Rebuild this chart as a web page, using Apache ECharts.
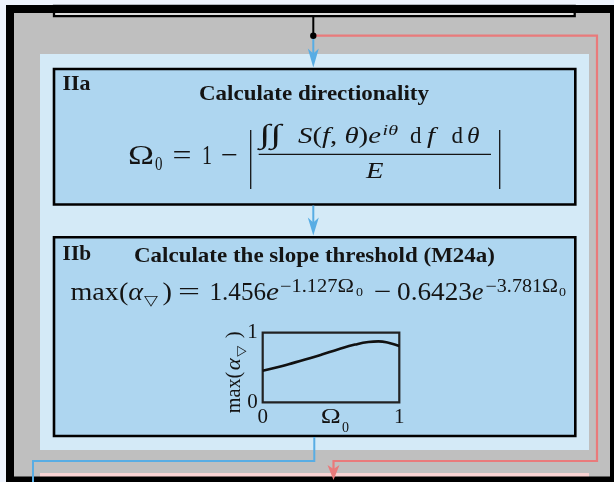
<!DOCTYPE html>
<html><head><meta charset="utf-8">
<script src="https://cdn.jsdelivr.net/npm/echarts@6/dist/echarts.min.js"></script>
<style>html,body{margin:0;padding:0;background:#eef3fc;}#c{width:614px;height:482px;}</style>
</head><body><div id="c"></div>
<script>
// ---- data ----
const omega0 = [0, 0.092, 0.19, 0.311, 0.433, 0.555, 0.676, 0.774, 0.847, 0.92, 1.0];
const maxAlpha = [0.452, 0.495, 0.548, 0.614, 0.686, 0.762, 0.829, 0.867, 0.876, 0.857, 0.81];
const xTickLabels = ['0', '1'];
const yTickLabels = ['0', '1'];
const stageLabels = ['IIa', 'IIb'];
const stageTitles = ['Calculate directionality', 'Calculate the slope threshold (M24a)'];

// ---- helpers ----
const SERIF = '"Liberation Serif", "DejaVu Serif", serif';
const INK = '#141414';
const ctx = document.createElement('canvas').getContext('2d');
function fontStr(size, it, bd) { return (it ? 'italic ' : '') + (bd ? 'bold ' : '') + size + 'px ' + SERIF; }
function run(tokens, x, base, size, w, z) {
  let total = 0, str = '';
  const rich = {};
  tokens.forEach(([t, k]) => {
    const it = k === 'i', bd = k === 'b';
    ctx.font = fontStr(size, it, bd);
    total += ctx.measureText(t).width;
    rich[k] = { fontFamily: SERIF, fontSize: size, fontStyle: it ? 'italic' : 'normal',
      fontWeight: bd ? 'bold' : 'normal', fill: INK };
    str += '{' + k + '|' + t + '}';
  });
  const sx = w ? w / total : 1;
  return { type: 'text', x: x, y: base - 0.34 * size, scaleX: sx, z: z || 6, silent: true,
    style: { text: str, rich: rich, align: 'left', verticalAlign: 'middle', fill: INK } };
}
const els = [];
function rect(x, y, w, h, fill, stroke, lw, z) {
  els.push({ type: 'rect', z: z, silent: true, shape: { x: x, y: y, width: w, height: h },
    style: { fill: fill || 'none', stroke: stroke || 'none', lineWidth: lw || 0 } });
}
function poly(points, color, lw, z) {
  els.push({ type: 'polyline', z: z || 5, silent: true, shape: { points: points },
    style: { stroke: color, lineWidth: lw, fill: 'none', lineJoin: 'miter' } });
}
function arrowDown(x, tip, len, half, notch, color) {
  els.push({ type: 'polygon', z: 5, silent: true,
    shape: { points: [[x, tip], [x - half, tip - len], [x, tip - len + notch], [x + half, tip - len]] },
    style: { fill: color } });
}
const BLUE = '#58ade4', RED = '#e97a7b';

// ---- diagram background ----
rect(10, 9, 604, 471.5, '#bfbfbf', null, 0, 1);
rect(54, 6, 520.7, 10.2, '#dcdcdc', '#000', 2.3, 2);
rect(40, 54, 549, 396, '#d4eaf7', null, 0, 2);
rect(40, 473, 549, 20, '#f9d3d3', null, 0, 2);
rect(10, 9, 604, 471.5, null, '#000', 8, 3);
rect(54, 69, 521.3, 135.5, '#aed6f0', '#000', 2.6, 4);
rect(54, 237.3, 521.3, 198.7, '#aed6f0', '#000', 2.6, 4);

// ---- connectors ----
poly([[313.3, 35.7], [597, 35.7], [597, 461], [333.5, 461], [333.5, 472]], RED, 2.2);
arrowDown(333.5, 480, 15, 6, 4, RED);
poly([[313.3, 17], [313.3, 35.7]], '#000', 2);
poly([[313.3, 35.7], [313.3, 56]], BLUE, 2);
arrowDown(313.3, 67.5, 19, 5.5, 5, BLUE);
poly([[313.3, 205.5], [313.3, 226]], BLUE, 2);
arrowDown(313.3, 235.5, 18, 5.5, 5, BLUE);
poly([[314.3, 437], [314.3, 461], [33, 461], [33, 484]], BLUE, 2);
els.push({ type: 'circle', z: 6, silent: true, shape: { cx: 313.3, cy: 35.7, r: 3.2 }, style: { fill: '#000' } });

// ---- stage IIa ----
els.push(run([[stageLabels[0], 'b']], 62.5, 91.5, 21, 28));
els.push(run([[stageTitles[0], 'b']], 199, 101.5, 21, 230));
els.push(run([['Ω', 'r']], 128, 166.5, 28, 26));
els.push(run([['0', 'r']], 155, 171, 19, 7.5));
els.push(run([['=', 'r']], 172.6, 166.5, 28, 19));
els.push(run([['1', 'r']], 202, 166.5, 28, 10));
els.push(run([['−', 'r']], 221, 166.5, 28, 17));
els.push({ type: 'line', z: 6, silent: true, shape: { x1: 250.7, y1: 130, x2: 250.7, y2: 189 }, style: { stroke: INK, lineWidth: 1.3 } });
els.push(run([['∫', 'i']], 259, 145.5, 27, 11));
els.push(run([['∫', 'i']], 270, 145.5, 27, 11));
els.push(run([['S', 'i'], ['(', 'r'], ['f', 'i'], [', ', 'r'], ['θ', 'i'], [')', 'r'], ['e', 'i']], 298, 144.5, 23, 83));
els.push(run([['iθ', 'i']], 382.6, 136.5, 15, 15.4));
els.push(run([['d', 'r']], 410, 144.5, 23, 11.5));
els.push(run([['f', 'i']], 427, 144.5, 23, 8));
els.push(run([['d', 'r']], 451.5, 144.5, 23, 11.5));
els.push(run([['θ', 'i']], 467, 144.5, 23, 12.5));
els.push({ type: 'line', z: 6, silent: true, shape: { x1: 258.7, y1: 154.3, x2: 491, y2: 154.3 }, style: { stroke: INK, lineWidth: 1.2 } });
els.push(run([['E', 'i']], 366, 180, 23, 17.5));
els.push({ type: 'line', z: 6, silent: true, shape: { x1: 499.7, y1: 130, x2: 499.7, y2: 189 }, style: { stroke: INK, lineWidth: 1.3 } });

// ---- stage IIb ----
els.push(run([[stageLabels[1], 'b']], 62.6, 262, 21, 28.5));
els.push(run([[stageTitles[1], 'b']], 134, 264, 21, 361));
els.push(run([['max', 'r'], ['(', 'r'], ['α', 'i']], 70.5, 302.5, 26, 72.5));
els.push(run([['▽', 'r']], 144, 306, 14, 14));
els.push(run([[')', 'r']], 162.5, 302.5, 26, 9.5));
els.push(run([['=', 'r']], 178, 302.5, 26, 22));
els.push(run([['1.456', 'r']], 209.5, 302.5, 26, 56.5));
els.push(run([['e', 'i']], 266, 302.5, 26, 13));
els.push(run([['−1.127', 'r']], 280, 293.5, 18, 57.5));
els.push(run([['Ω', 'r']], 337.5, 293.5, 18, 16.5));
els.push(run([['0', 'r']], 356, 296.5, 13, 7));
els.push(run([['−', 'r']], 374, 302.5, 26, 17.5));
els.push(run([['0.6423', 'r']], 397, 302.5, 26, 75));
els.push(run([['e', 'i']], 472, 302.5, 26, 11.5));
els.push(run([['−3.781', 'r']], 485.5, 293.5, 18, 56.5));
els.push(run([['Ω', 'r']], 542, 293.5, 18, 16));
els.push(run([['0', 'r']], 559, 296.5, 13, 7));

// ---- inset axis titles ----
els.push(run([['Ω', 'r']], 320.7, 425, 21, 20));
els.push(run([['0', 'r']], 342, 433.5, 14, 7));
els.push({ type: 'group', x: 242, y: 413.3, rotation: Math.PI / 2, z: 6, children: [
  run([['max(', 'r']], 0, 0, 20, 41.6, 6),
  run([['α', 'i']], 43, 0, 20, 12, 6),
  run([['▽', 'r']], 56.5, 3.5, 12, 11, 6),
  run([[')', 'r']], 75, 0, 20, 7, 6)
] });

const chart = echarts.init(document.getElementById('c'));
chart.setOption({
  backgroundColor: '#eef3fc',
  animation: false,
  grid: { left: 262.7, top: 332.7, width: 136.6, height: 69.6, show: true,
    borderColor: '#222', borderWidth: 2.2, backgroundColor: 'transparent', z: 10 },
  xAxis: { type: 'value', min: 0, max: 1, interval: 1, z: 10,
    axisLine: { show: false }, axisTick: { show: false }, splitLine: { show: false },
    axisLabel: { margin: 5, fontFamily: SERIF, fontSize: 21, color: INK,
      formatter: v => xTickLabels[Math.round(v)] } },
  yAxis: { type: 'value', min: 0, max: 1, interval: 1, z: 10,
    axisLine: { show: false }, axisTick: { show: false }, splitLine: { show: false },
    axisLabel: { margin: 5, fontFamily: SERIF, fontSize: 21, color: INK,
      formatter: v => yTickLabels[Math.round(v)] } },
  series: [{ type: 'line', z: 12, smooth: true, symbol: 'none',
    data: omega0.map((x, i) => [x, maxAlpha[i]]),
    lineStyle: { color: '#111', width: 2.6 } }],
  graphic: { elements: els }
});
</script></body></html>
